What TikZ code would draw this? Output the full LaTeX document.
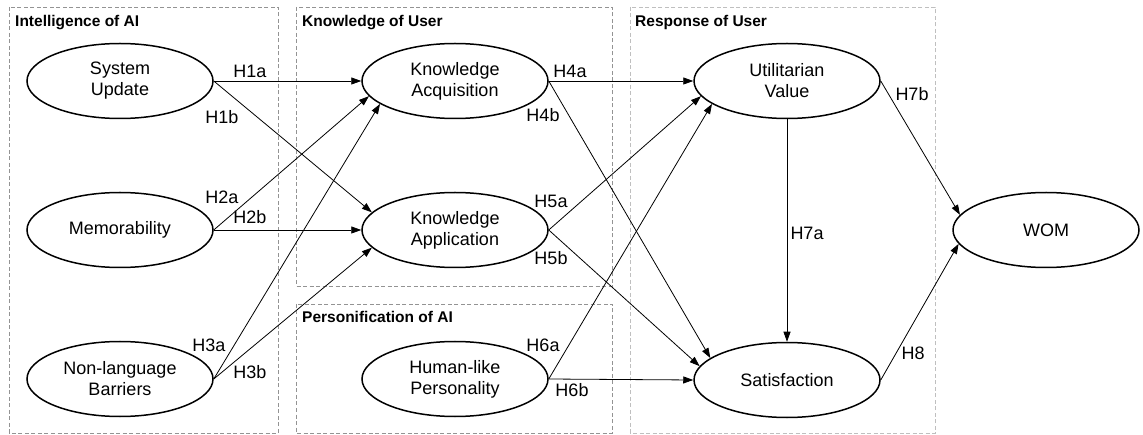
\documentclass[tikz,border=0pt]{standalone}
\usepackage{fontspec}
\setmainfont{Liberation Sans}
\usetikzlibrary{shapes.geometric,arrows.meta}
\begin{document}
\begin{tikzpicture}[x=1pt,y=-1pt,
  construct/.style={ellipse,draw,line width=1.5pt,minimum width=186pt,minimum height=75pt,inner sep=0pt,align=center,font=\fontsize{18}{21}\selectfont},
  hyp/.style={-{Triangle[length=10pt,width=7pt]},line width=0.8pt},
  hlabel/.style={font=\fontsize{18}{21}\selectfont,inner sep=0pt},
  grp/.style={draw=gray!85,dash pattern=on 4pt off 2.5pt,line width=0.9pt},
  grplight/.style={draw=gray!50,dash pattern=on 4pt off 2.5pt,line width=0.9pt},
  grptitle/.style={font=\fontsize{15.5}{18}\selectfont\bfseries,anchor=base west,inner sep=0pt}]
\useasboundingbox[fill=white] (0,0) rectangle (1143,435);
% groups
\draw[grp] (9,7) rectangle (278,433);
\draw[grp] (296,7) rectangle (612,286);
\draw[grp] (296,304) rectangle (612,433);
\draw[grplight] (630,7) rectangle (935,433);
\node[grptitle] (t1) at (15,27) {Intelligence of AI};
\node[grptitle] (t2) at (302,27) {Knowledge of User};
\node[grptitle] (t3) at (302,323) {Personification of AI};
\node[grptitle] (t4) at (635,27) {Response of User};
% constructs
\node[construct] (su) at (120,81) {System\\Update};
\node[construct] (mem) at (120,230) {Memorability};
\node[construct] (nl) at (120,379) {Non-language\\Barriers};
\node[construct] (ka) at (455,81) {Knowledge\\Acquisition};
\node[construct] (kap) at (455,230) {Knowledge\\Application};
\node[construct] (hp) at (455,379) {Human-like\\Personality};
\node[construct] (uv) at (787,81) {Utilitarian\\Value};
\node[construct] (sat) at (787,380) {Satisfaction};
\node[construct] (wom) at (1046,230) {WOM};
% paths
\draw[hyp] (su.east) -- (ka.west);
\draw[hyp] (su.east) -- (kap.168);
\draw[hyp] (mem.east) -- (ka.190);
\draw[hyp] (mem.east) -- (kap.west);
\draw[hyp] (nl.east) -- (ka.197);
\draw[hyp] (nl.east) -- (kap.192);
\draw[hyp] (ka.east) -- (uv.west);
\draw[hyp] (ka.east) -- (sat.164);
\draw[hyp] (kap.east) -- (uv.190);
\draw[hyp] (kap.east) -- (sat.171);
\draw[hyp] (hp.east) -- (uv.197);
\draw[hyp] (hp.east) -- (sat.west);
\draw[hyp] (uv.south) -- (sat.north);
\draw[hyp] (uv.east) -- (wom.170);
\draw[hyp] (sat.east) -- (wom.189);
% labels
\node[hlabel] (l1a) at (250,71) {H1a};
\node[hlabel] (l1b) at (222,117) {H1b};
\node[hlabel] (l2a) at (222,197) {H2a};
\node[hlabel] (l2b) at (250,217) {H2b};
\node[hlabel] (l3a) at (209,345) {H3a};
\node[hlabel] (l3b) at (250,372) {H3b};
\node[hlabel] (l4a) at (570,71) {H4a};
\node[hlabel] (l4b) at (543,115) {H4b};
\node[hlabel] (l5a) at (551,201) {H5a};
\node[hlabel] (l5b) at (551,258) {H5b};
\node[hlabel] (l6a) at (543,345) {H6a};
\node[hlabel] (l6b) at (572,390) {H6b};
\node[hlabel] (l7a) at (807,233) {H7a};
\node[hlabel] (l7b) at (912,94) {H7b};
\node[hlabel] (l8) at (913,353) {H8};
\end{tikzpicture}
\end{document}
